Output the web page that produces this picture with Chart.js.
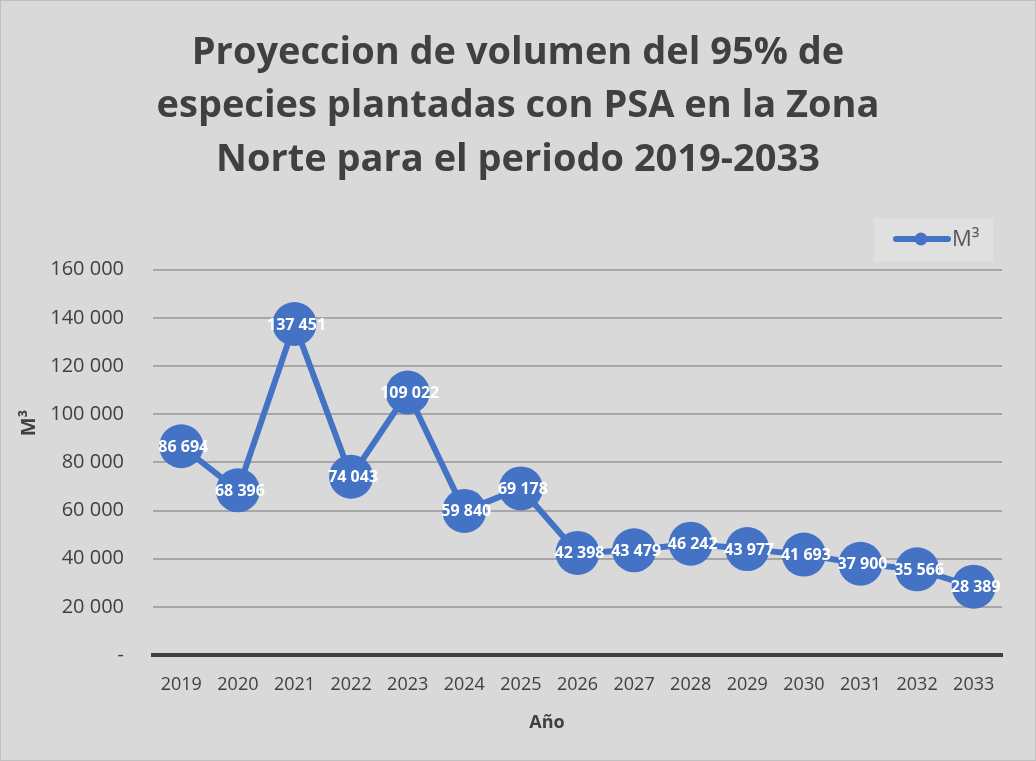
<!DOCTYPE html>
<html><head><meta charset="utf-8">
<script src="https://cdn.jsdelivr.net/npm/chart.js@4/dist/chart.umd.min.js"></script>
<style>html,body{margin:0;padding:0;background:#d9d9d9;}canvas{display:block;}</style>
</head><body>
<div style="width:1036px;height:761px;"><canvas id="c" width="1036" height="761"></canvas></div>
<script>
const categories = ['2019','2020','2021','2022','2023','2024','2025','2026','2027','2028','2029','2030','2031','2032','2033'];
const seriesName = 'M³';
const values = [86694, 68396, 137451, 74043, 109022, 59840, 69178, 42398, 43479, 46242, 43977, 41693, 37900, 35566, 28389];
const titleLines = ['Proyeccion de volumen del 95% de', 'especies plantadas con PSA en la Zona', 'Norte para el periodo 2019-2033'];
const xTitle = 'Año';
const yTitle = 'M³';
const yTicks = [0, 20000, 40000, 60000, 80000, 100000, 120000, 140000, 160000];

const BLUE = '#4472c4';
const FONT = "'Open Sans', sans-serif";
function fmt(v){ if(v===0) return '-'; return String(Math.round(v)).replace(/\B(?=(\d{3})+(?!\d))/g,' '); }

const bgPlugin = {
  id:'bg',
  beforeDraw(chart){
    const ctx=chart.ctx; ctx.save();
    ctx.fillStyle='#d9d9d9'; ctx.fillRect(0,0,chart.width,chart.height);
    ctx.strokeStyle='#bfbfbf'; ctx.lineWidth=1; ctx.strokeRect(0.5,0.5,chart.width-1,chart.height-1);
    ctx.restore();
  }
};
const labelPlugin = {
  id:'dlabels',
  afterDatasetsDraw(chart){
    const ctx=chart.ctx; ctx.save();
    ctx.font="bold 16px "+FONT; ctx.fillStyle='#ffffff'; ctx.textAlign='center'; ctx.textBaseline='middle';
    const meta=chart.getDatasetMeta(0);
    meta.data.forEach((pt,i)=>{ ctx.fillText(fmt(values[i]), pt.x+2, pt.y+1); });
    ctx.restore();
  }
};
const extrasPlugin = {
  id:'extras',
  afterDraw(chart){
    const ctx=chart.ctx; ctx.save();
    // legend
    ctx.fillStyle='#e0e0e0'; ctx.fillRect(874,218,119,44);
    ctx.strokeStyle=BLUE; ctx.lineWidth=6; ctx.lineCap='round';
    ctx.beginPath(); ctx.moveTo(896,239); ctx.lineTo(948,239); ctx.stroke();
    ctx.fillStyle=BLUE; ctx.beginPath(); ctx.arc(921,239,6.5,0,Math.PI*2); ctx.fill();
    ctx.fillStyle='#595959'; ctx.font="22px "+FONT; ctx.textAlign='left'; ctx.textBaseline='middle';
    ctx.fillText(seriesName, 952, 240);
    // x axis title
    ctx.fillStyle='#404040'; ctx.font="bold 18px "+FONT; ctx.textAlign='center'; ctx.textBaseline='middle';
    ctx.fillText(xTitle, 547, 723);
    // y axis title
    ctx.translate(29, 423); ctx.rotate(-Math.PI/2);
    ctx.font="bold 20px "+FONT;
    ctx.fillText(yTitle, 0, 0);
    ctx.restore();
  }
};

new Chart(document.getElementById('c'), {
  type:'line',
  data:{ labels:categories, datasets:[{
    label:seriesName, data:values, borderColor:BLUE, backgroundColor:BLUE,
    borderWidth:6, pointRadius:22, pointHoverRadius:22, pointBorderWidth:0,
    pointBackgroundColor:BLUE, tension:0, yAxisID:'y'
  }]},
  options:{
    responsive:false, animation:false, devicePixelRatio:1,
    layout:{ padding:{ left:0, right:0, top:0, bottom:0 } },
    plugins:{
      legend:{ display:false }, tooltip:{ enabled:false },
      title:{ display:true, text:titleLines, color:'#404040',
        font:{ family:FONT, size:38, weight:'bold', lineHeight:1.41 },
        padding:{ top:26, bottom:83 } }
    },
    scales:{
      x:{
        offset:true,
        grid:{ display:false, drawTicks:false },
        border:{ display:true, color:'#404040', width:4 },
        ticks:{ color:'#404040', font:{ family:FONT, size:18 }, padding:19, maxRotation:0, autoSkip:false },
        afterFit(s){ s.height = 106; }
      },
      y:{
        min:0, max:160000,
        afterBuildTicks(s){ s.ticks = yTicks.map(v=>({value:v})); },
        grid:{ color:'#a6a6a6', lineWidth:2, drawTicks:false },
        border:{ display:false },
        ticks:{ color:'#404040', font:{ family:FONT, size:20 }, padding:29, callback:(v)=>fmt(v) },
        afterFit(s){ s.width = 153; }
      },
      y2:{
        position:'right', min:0, max:160000,
        grid:{ display:false, drawTicks:false }, border:{ display:false },
        ticks:{ display:false },
        afterFit(s){ s.width = 34; }
      }
    }
  },
  plugins:[bgPlugin, labelPlugin, extrasPlugin]
});
</script>
</body></html>
